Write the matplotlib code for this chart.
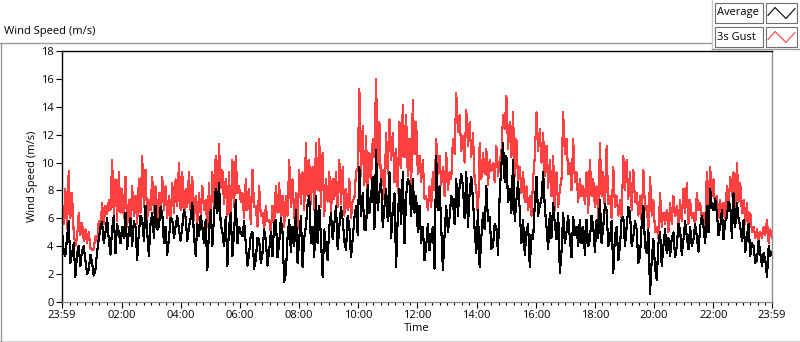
import numpy as np
import matplotlib.pyplot as plt
from matplotlib.lines import Line2D
from matplotlib.patches import Rectangle

plt.rcParams['font.family'] = ['Open Sans', 'DejaVu Sans']

# readings taken off the chart, evenly spaced from 23:59 to 23:59 next day.
# *_even are the samples at even positions, *_odd the ones in between
gust_even = [7.1, 8.1, 9.4, 7.8, 4.0, 6.4, 5.7, 5.2, 5.0, 3.7,
             4.7, 5.8, 7.1, 6.9, 7.3, 10.2, 8.8, 9.3, 8.1, 9.0,
             7.3, 8.3, 7.6, 8.8, 10.5, 9.5, 7.3, 9.0, 8.3, 7.8,
             9.0, 8.3, 7.6, 8.5, 8.8, 10.0, 9.3, 8.1, 9.3, 9.0,
             7.6, 7.8, 8.3, 7.3, 8.5, 9.3, 10.5, 11.3, 9.5, 8.8,
             9.3, 10.2, 10.5, 8.3,
             7.8, 8.8, 8.1, 9.5, 6.9, 8.3, 6.4, 6.9, 5.9, 6.9,
             8.3, 8.5, 7.6, 7.6, 10.2, 8.8, 7.8, 9.5, 9.3, 11.4,
             10.2, 9.7, 11.4, 11.7, 10.7, 8.8, 9.3, 8.8, 9.3, 10.2,
             9.7, 8.1, 8.8, 7.3, 9.3, 15.3, 12.6, 11.9, 10.7, 11.7,
             16.0, 12.9, 9.5, 12.1, 13.1, 12.1, 11.0, 12.9, 14.1, 13.4,
             11.7,
             14.5, 12.9, 10.5, 10.2, 7.6, 8.3, 9.3, 11.7, 10.5, 9.7,
             10.7, 9.3, 11.7, 15.0, 13.4, 11.9, 13.8, 12.9, 12.1, 8.1,
             11.4, 10.7, 11.0, 10.2, 10.0, 11.2, 10.2, 13.4, 14.8, 12.9,
             13.6, 11.7, 9.7, 9.3, 8.3, 7.6, 8.8, 13.6, 12.4, 12.1,
             11.2, 10.2, 10.5, 9.3, 8.1, 13.6, 11.7, 10.0, 11.7, 9.3,
             8.8,
             8.3, 9.3, 10.2, 8.8, 8.3, 11.4, 9.3, 11.2, 7.6, 9.7,
             7.6, 7.3, 10.5, 10.2, 9.3, 9.5, 7.8, 7.6, 9.5, 6.9,
             9.0, 7.3, 5.4, 7.8, 6.4, 6.6, 7.1, 7.6, 6.9, 7.3,
             8.1, 8.5, 7.3, 6.4, 7.8, 7.1, 6.4, 9.3, 9.7, 8.8,
             7.6, 7.3, 7.1, 8.3, 9.0, 9.3, 10.0, 8.5, 7.3, 7.1,
             6.4, 5.4, 5.2, 5.0, 5.4, 5.9, 5.2]

gust_odd = [5.6, 5.2, 6.0, 5.0, 4.6, 4.8, 4.4, 4.2, 3.9, 3.8,
            4.4, 5.2, 5.6, 6.3, 6.6, 6.2, 5.8, 6.4, 6.0, 5.4,
            5.8, 6.2, 5.6, 6.4, 6.8, 5.9, 6.6, 6.4, 5.6, 6.2,
            6.6, 6.0, 5.8, 6.4, 6.9, 6.6, 6.0, 6.8, 6.4, 5.9,
            5.6, 6.3, 6.6, 5.4, 5.3, 6.8, 7.3, 8.2, 7.0, 6.2,
            5.3, 6.8, 7.8, 7.2,
            6.0, 6.6, 5.6, 6.8, 5.4, 6.2, 5.2, 5.8, 5.0, 5.6,
            6.4, 6.0, 5.4, 6.2, 6.8, 6.0, 5.2, 7.0, 6.6, 7.6,
            7.0, 6.6, 8.0, 6.8, 6.2, 7.2, 6.4, 7.4, 6.8, 7.0,
            6.2, 6.6, 6.0, 7.4, 9.6, 9.0, 8.4, 7.6, 8.8, 10.4,
            9.8, 8.0, 7.4, 9.2, 10.2, 8.6, 7.8, 9.6, 10.4, 9.0,
            8.2,
            10.6, 9.2, 8.6, 7.4, 6.6, 6.8, 8.0, 9.2, 8.4, 7.6,
            8.0, 8.8, 10.6, 12.2, 10.8, 10.0, 11.2, 10.4, 8.8, 6.0,
            8.8, 9.2, 8.4, 9.4, 8.6, 9.0, 10.6, 12.4, 11.0, 10.4,
            9.0, 8.6, 7.8, 7.2, 6.6, 6.2, 10.4, 10.8, 10.0, 9.0,
            8.2, 7.6, 6.6, 6.8, 8.8, 10.6, 9.2, 8.0, 8.6, 7.2,
            7.6,
            7.0, 6.4, 7.6, 6.8, 6.0, 7.6, 6.4, 7.0, 6.0, 6.8,
            6.2, 6.0, 8.0, 7.4, 6.6, 7.2, 6.2, 5.8, 6.6, 5.2,
            6.2, 5.0, 4.6, 5.4, 5.6, 5.0, 5.6, 6.2, 5.4, 5.8,
            6.4, 5.6, 6.0, 5.4, 6.6, 6.0, 5.4, 7.0, 7.6, 6.6,
            6.0, 5.6, 6.0, 6.8, 7.6, 6.4, 7.2, 6.4, 5.6, 5.2,
            5.0, 4.6, 4.4, 4.6, 4.8, 4.2, 4.6]

average_even = [5.2, 3.3, 5.8, 3.5, 1.8, 4.0, 3.7, 3.0, 2.3, 2.8,
                2.3, 4.5, 5.7, 5.0, 4.5, 5.2, 3.5, 5.0, 5.4, 6.4,
                5.0, 4.0, 5.4, 5.0, 5.9, 6.9, 3.3, 6.4, 6.9, 5.4,
                6.4, 5.4, 4.5, 5.9, 5.4, 5.2, 5.4, 6.1, 5.4, 7.1,
                3.3, 4.7, 5.4, 5.9, 5.2, 4.0, 8.1, 8.5, 5.0, 6.1,
                5.4, 3.3, 7.3, 5.4,
                4.7, 4.2, 3.5, 5.0, 3.0, 4.5, 3.5, 4.5, 3.7, 3.3,
                5.9, 4.2, 5.0, 2.1, 5.9, 5.4, 6.6, 4.5, 2.5, 5.4,
                7.6, 5.4, 7.6, 6.9, 1.8, 4.0, 5.4, 4.5, 6.9, 5.4,
                5.9, 3.7, 5.4, 4.5, 6.9, 9.7, 7.8, 5.2, 6.4, 9.0,
                10.9, 7.8, 5.4, 8.1, 9.3, 6.6, 2.5, 8.1, 9.3, 7.6,
                8.5,
                8.8, 7.6, 6.9, 5.4, 4.0, 3.7, 5.4, 10.5, 8.3, 2.3,
                6.9, 6.1, 7.3, 8.8, 8.3, 8.3, 9.3, 7.8, 7.3, 3.5,
                2.5, 6.4, 8.3, 6.1, 4.0, 5.4, 7.8, 11.4, 10.5, 8.1,
                10.2, 7.3, 6.6, 5.9, 5.0, 2.5, 4.5, 9.0, 6.9, 9.3,
                5.4, 6.4, 7.1, 4.5, 2.1, 6.4, 5.0, 4.5, 6.1, 5.4,
                5.9,
                5.4, 5.9, 4.5, 5.4, 5.9, 7.3, 5.4, 6.6, 4.5, 2.1,
                5.4, 4.0, 6.1, 5.4, 6.4, 4.7, 5.2, 3.3, 6.9, 3.5,
                0.6, 4.5, 1.6, 5.0, 4.0, 3.5, 3.3, 5.0, 4.0, 5.2,
                4.5, 4.7, 5.4, 4.5, 4.7, 5.4, 5.4, 6.9, 8.1, 6.6,
                6.4, 5.4, 4.5, 6.1, 6.9, 7.8, 7.1, 5.4, 5.9, 4.7,
                3.3, 4.0, 3.0, 3.5, 3.5, 1.8, 3.3]

average_odd = [3.6, 4.6, 2.8, 4.2, 3.4, 2.6, 4.0, 2.0, 3.4, 1.9,
               3.6, 5.4, 4.2, 6.0, 3.4, 6.2, 5.6, 4.2, 4.6, 3.8,
               6.0, 5.8, 3.0, 6.2, 4.4, 5.0, 5.6, 4.6, 5.2, 6.8,
               4.2, 3.4, 6.0, 4.6, 6.2, 4.4, 6.6, 4.4, 6.0, 4.8,
               5.6, 6.2, 4.2, 2.3, 6.6, 6.2, 6.4, 5.6, 4.0, 2.6,
               6.4, 5.0, 4.2, 5.0,
               5.8, 2.6, 4.8, 2.4, 4.6, 2.8, 5.2, 2.6, 5.0, 5.6,
               3.2, 6.0, 1.4, 4.6, 3.6, 4.0, 2.8, 6.2, 4.6, 7.0,
               4.2, 3.2, 4.2, 4.6, 5.2, 3.0, 6.4, 5.6, 3.8, 6.8,
               4.4, 6.2, 3.2, 6.0, 4.8, 6.2, 5.2, 8.4, 7.6, 5.2,
               6.6, 8.8, 6.8, 5.8, 4.6, 7.8, 6.2, 5.6, 4.2, 8.8,
               6.2,
               6.4, 5.0, 4.2, 3.0, 5.6, 4.8, 2.4, 6.6, 5.4, 4.8,
               5.0, 7.6, 5.6, 6.2, 9.2, 6.0, 5.4, 9.0, 5.2, 6.6,
               4.6, 5.2, 5.8, 3.8, 5.6, 3.4, 9.8, 8.6, 7.2, 6.4,
               5.8, 8.6, 4.2, 3.4, 5.6, 4.8, 7.0, 6.2, 7.4, 6.8,
               3.8, 4.6, 5.6, 6.4, 3.6, 4.2, 6.2, 3.2, 4.8, 4.0,
               4.2,
               3.4, 4.0, 6.2, 3.6, 4.6, 4.2, 7.0, 4.0, 5.8, 4.8,
               3.0, 6.0, 4.0, 6.8, 4.0, 5.8, 2.8, 5.6, 4.0, 5.2,
               3.0, 2.4, 4.2, 2.6, 5.2, 4.6, 4.6, 3.2, 5.6, 3.4,
               5.8, 3.8, 4.0, 5.6, 3.6, 6.2, 4.2, 5.0, 6.8, 7.4,
               4.8, 6.6, 5.8, 7.2, 4.6, 5.4, 6.0, 4.4, 3.6, 5.6,
               4.2, 2.8, 4.4, 2.6, 3.0, 4.0, 3.6]

start_clock = 23 * 60 + 59   # 23:59 in minutes after midnight
day_minutes = 24 * 60
series_names = ['Average', '3s Gust']
series_colors = ['black', '#ff4040']

W, H = 800, 342


def px(x, y):
    return x / W, 1 - y / H


def clock_label(elapsed):
    m = int(round(start_clock + elapsed)) % day_minutes
    return '%02d:%02d' % (m // 60, m % 60)


def fig_line(fig, x0, y0, x1, y1, color, lw=1.0):
    a = px(x0, y0)
    b = px(x1, y1)
    fig.add_artist(Line2D([a[0], b[0]], [a[1], b[1]], color=color, lw=lw,
                          transform=fig.transFigure))


gust = np.column_stack([gust_even, gust_odd]).ravel()
average = np.column_stack([average_even, average_odd]).ravel()
minutes = np.linspace(0, day_minutes, len(gust))

fig = plt.figure(figsize=(W / 100, H / 100), dpi=100)
fig.patch.set_facecolor('white')

# panel frame (LabVIEW style)
fig_line(fig, 0, 42.5, 711, 42.5, '#9a9a9a')
fig_line(fig, 0.5, 42.5, 0.5, 342, '#9a9a9a')
fig_line(fig, 0, 341.5, 800, 341.5, 'black')
fig_line(fig, 711.5, 0, 711.5, 48.5, '#c8c8c8')
fig_line(fig, 711.5, 48.5, 800, 48.5, '#9a9a9a')

fig.text(*px(4, 31.5), 'Wind Speed (m/s)', fontsize=8, va='center', ha='left')

ax = fig.add_axes([62 / W, 40 / H, 710 / W, 251 / H])
ax.plot(minutes, gust, color=series_colors[1], lw=0.8, antialiased=False)
ax.plot(minutes, average, color=series_colors[0], lw=0.8, antialiased=False)

ax.set_xlim(0, day_minutes)
ax.set_ylim(0, 18)
ax.set_yticks(np.arange(0, 19, 2))

majors = [0] + [120 * k + 1 for k in range(1, 12)] + [day_minutes]
minors = [m for m in range(1, day_minutes, 15) if m not in majors]
ax.set_xticks(majors)
ax.set_xticklabels([clock_label(m) for m in majors])
ax.set_xticks(minors, minor=True)

ax.tick_params(axis='both', which='major', direction='out', length=4,
               width=0.8, labelsize=8, pad=2)
ax.tick_params(axis='x', which='minor', direction='out', length=2.2, width=0.8)

for side in ['top', 'left']:
    ax.spines[side].set_color('black')
    ax.spines[side].set_linewidth(1.0)
for side in ['right', 'bottom']:
    ax.spines[side].set_color('#8c8c8c')
    ax.spines[side].set_linewidth(1.0)

ax.set_xlabel('Time', fontsize=8, labelpad=1)
ax.set_ylabel('Wind Speed (m/s)', fontsize=8)
ax.yaxis.set_label_coords(-0.034, 0.5)

# plot legend in top-right corner
for i, name in enumerate(series_names):
    top = 3.5 + i * 24
    x0, y0 = px(714.5, top + 19)
    fig.add_artist(Rectangle((x0, y0), 48 / W, 19 / H, facecolor='white',
                             edgecolor='#6e6e6e', lw=0.8, transform=fig.transFigure))
    fig.text(*px(717, top + 9.5), name, fontsize=8, va='center', ha='left')
    x0, y0 = px(765.5, top + 19)
    fig.add_artist(Rectangle((x0, y0), 31 / W, 19 / H, facecolor='white',
                             edgecolor='#6e6e6e', lw=0.8, transform=fig.transFigure))
    zx = [768, 775, 786, 795]
    zy = [top + 12, top + 4, top + 15, top + 5]
    pts = [px(a, b) for a, b in zip(zx, zy)]
    fig.add_artist(Line2D([p[0] for p in pts], [p[1] for p in pts],
                          color=series_colors[i], lw=0.8, transform=fig.transFigure))

fig.savefig('out.png', dpi=100)
